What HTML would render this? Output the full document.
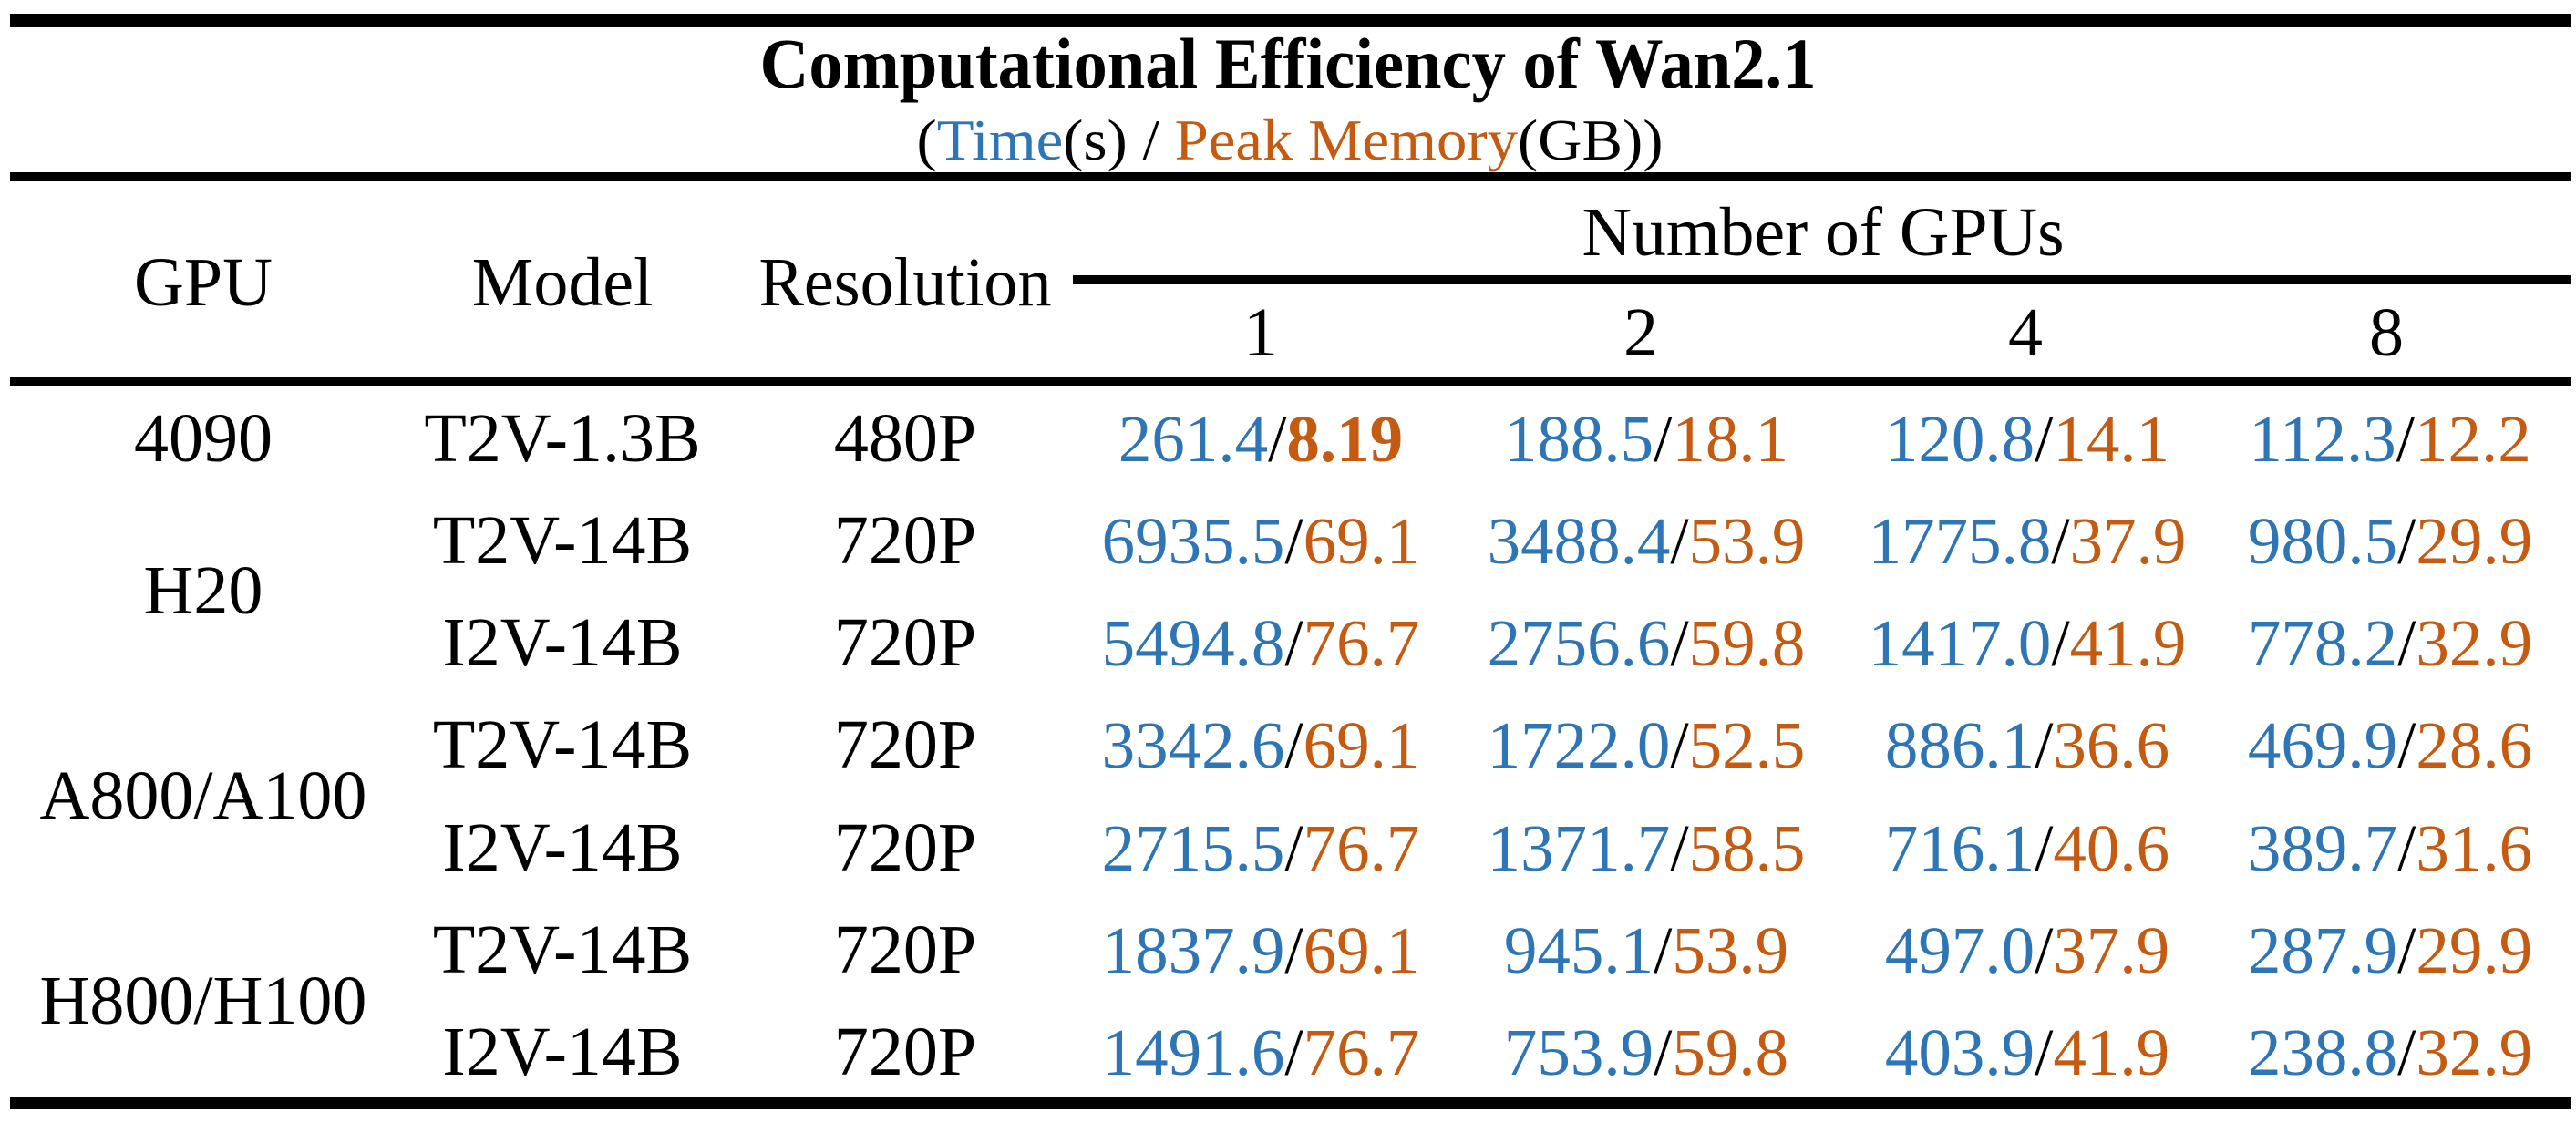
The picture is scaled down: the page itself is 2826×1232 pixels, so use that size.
<!DOCTYPE html>
<html><head><meta charset="utf-8"><style>html,body{margin:0;padding:0;background:#fff}svg{display:block}text{font-family:"Liberation Serif","Times New Roman",serif}</style></head>
<body>
<svg width="2826" height="1232" viewBox="0 0 2826 1232" xmlns="http://www.w3.org/2000/svg">
<rect x="11" y="15" width="2809" height="15" fill="#000"/>
<rect x="11" y="189" width="2809" height="10" fill="#000"/>
<rect x="1177" y="302" width="1643" height="10" fill="#000"/>
<rect x="11" y="414" width="2809" height="10" fill="#000"/>
<rect x="11" y="1203" width="2809" height="14" fill="#000"/>
<text x="1413" y="96" font-size="78" font-weight="bold" text-anchor="middle" textLength="1159" lengthAdjust="spacingAndGlyphs">Computational Efficiency of Wan2.1</text>
<text x="1415" y="175" font-size="64" text-anchor="middle" textLength="819" lengthAdjust="spacingAndGlyphs">(<tspan fill="#2e75b6">Time</tspan>(s) / <tspan fill="#c55a11">Peak Memory</tspan>(GB))</text>
<text x="2000" y="280" font-size="76" text-anchor="middle" textLength="529" lengthAdjust="spacingAndGlyphs">Number of GPUs</text>
<g font-size="76" text-anchor="middle">
<text x="223" y="335">GPU</text>
<text x="617" y="335">Model</text>
<text x="993" y="335" textLength="321" lengthAdjust="spacingAndGlyphs">Resolution</text>
<text x="1383" y="390">1</text><text x="1800" y="390">2</text><text x="2222" y="390">4</text><text x="2618" y="390">8</text>
<text x="223" y="506">4090</text>
<text x="223" y="673">H20</text>
<text x="223" y="898">A800/A100</text>
<text x="223" y="1123">H800/H100</text>
<text x="617" y="506">T2V-1.3B</text><text x="993" y="506">480P</text>
<text x="617" y="618">T2V-14B</text><text x="993" y="618">720P</text>
<text x="617" y="730">I2V-14B</text><text x="993" y="730">720P</text>
<text x="617" y="842">T2V-14B</text><text x="993" y="842">720P</text>
<text x="617" y="955">I2V-14B</text><text x="993" y="955">720P</text>
<text x="617" y="1067">T2V-14B</text><text x="993" y="1067">720P</text>
<text x="617" y="1179">I2V-14B</text><text x="993" y="1179">720P</text>
</g>
<g font-size="73" text-anchor="middle" fill="#2e75b6">
<text x="1383" y="506">261.4<tspan fill="#000">/</tspan><tspan fill="#c55a11" font-weight="bold">8.19</tspan></text>
<text x="1806" y="506">188.5<tspan fill="#000">/</tspan><tspan fill="#c55a11">18.1</tspan></text>
<text x="2224" y="506">120.8<tspan fill="#000">/</tspan><tspan fill="#c55a11">14.1</tspan></text>
<text x="2622" y="506">112.3<tspan fill="#000">/</tspan><tspan fill="#c55a11">12.2</tspan></text>

<text x="1383" y="618">6935.5<tspan fill="#000">/</tspan><tspan fill="#c55a11">69.1</tspan></text>
<text x="1806" y="618">3488.4<tspan fill="#000">/</tspan><tspan fill="#c55a11">53.9</tspan></text>
<text x="2224" y="618">1775.8<tspan fill="#000">/</tspan><tspan fill="#c55a11">37.9</tspan></text>
<text x="2622" y="618">980.5<tspan fill="#000">/</tspan><tspan fill="#c55a11">29.9</tspan></text>

<text x="1383" y="730">5494.8<tspan fill="#000">/</tspan><tspan fill="#c55a11">76.7</tspan></text>
<text x="1806" y="730">2756.6<tspan fill="#000">/</tspan><tspan fill="#c55a11">59.8</tspan></text>
<text x="2224" y="730">1417.0<tspan fill="#000">/</tspan><tspan fill="#c55a11">41.9</tspan></text>
<text x="2622" y="730">778.2<tspan fill="#000">/</tspan><tspan fill="#c55a11">32.9</tspan></text>

<text x="1383" y="842">3342.6<tspan fill="#000">/</tspan><tspan fill="#c55a11">69.1</tspan></text>
<text x="1806" y="842">1722.0<tspan fill="#000">/</tspan><tspan fill="#c55a11">52.5</tspan></text>
<text x="2224" y="842">886.1<tspan fill="#000">/</tspan><tspan fill="#c55a11">36.6</tspan></text>
<text x="2622" y="842">469.9<tspan fill="#000">/</tspan><tspan fill="#c55a11">28.6</tspan></text>

<text x="1383" y="955">2715.5<tspan fill="#000">/</tspan><tspan fill="#c55a11">76.7</tspan></text>
<text x="1806" y="955">1371.7<tspan fill="#000">/</tspan><tspan fill="#c55a11">58.5</tspan></text>
<text x="2224" y="955">716.1<tspan fill="#000">/</tspan><tspan fill="#c55a11">40.6</tspan></text>
<text x="2622" y="955">389.7<tspan fill="#000">/</tspan><tspan fill="#c55a11">31.6</tspan></text>

<text x="1383" y="1067">1837.9<tspan fill="#000">/</tspan><tspan fill="#c55a11">69.1</tspan></text>
<text x="1806" y="1067">945.1<tspan fill="#000">/</tspan><tspan fill="#c55a11">53.9</tspan></text>
<text x="2224" y="1067">497.0<tspan fill="#000">/</tspan><tspan fill="#c55a11">37.9</tspan></text>
<text x="2622" y="1067">287.9<tspan fill="#000">/</tspan><tspan fill="#c55a11">29.9</tspan></text>

<text x="1383" y="1179">1491.6<tspan fill="#000">/</tspan><tspan fill="#c55a11">76.7</tspan></text>
<text x="1806" y="1179">753.9<tspan fill="#000">/</tspan><tspan fill="#c55a11">59.8</tspan></text>
<text x="2224" y="1179">403.9<tspan fill="#000">/</tspan><tspan fill="#c55a11">41.9</tspan></text>
<text x="2622" y="1179">238.8<tspan fill="#000">/</tspan><tspan fill="#c55a11">32.9</tspan></text>
</g>
</svg>
</body></html>
